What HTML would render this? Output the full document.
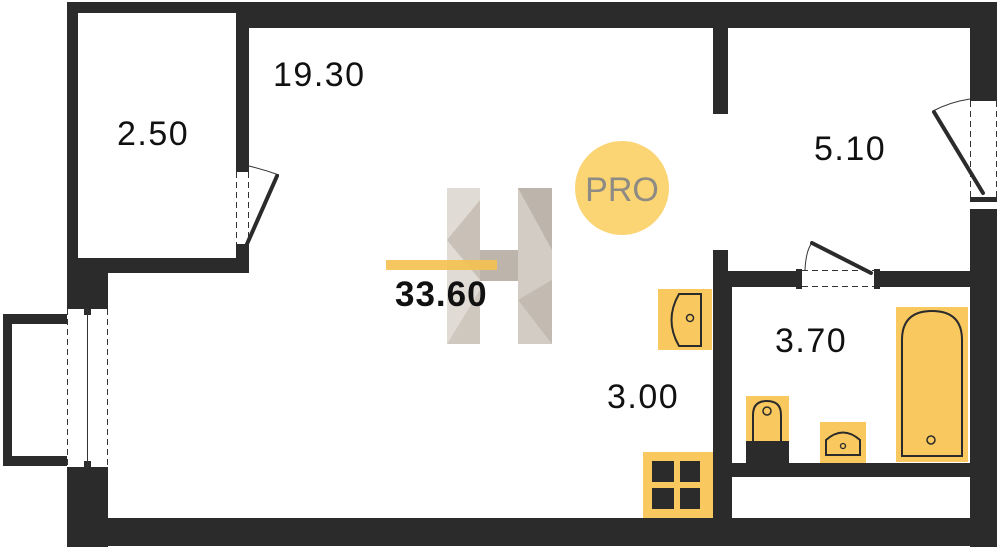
<!DOCTYPE html>
<html><head><meta charset="utf-8"><style>
html,body{margin:0;padding:0;background:#fff;width:1000px;height:547px;overflow:hidden}
svg{display:block}
text{font-family:"Liberation Sans",sans-serif;}
</style></head><body>
<svg width="1000" height="547" viewBox="0 0 1000 547" xmlns="http://www.w3.org/2000/svg">
<rect width="1000" height="547" fill="#fff"/>
<g fill="#2b2b2b">
<rect x="67" y="2" width="930" height="11"/>
<rect x="249" y="2" width="748" height="26"/>
<rect x="67" y="2" width="11" height="271"/>
<rect x="236" y="2" width="13" height="167"/>
<rect x="236" y="248" width="13" height="25"/>
<rect x="67" y="258" width="182" height="15"/>
<rect x="67" y="258" width="41" height="49"/>
<rect x="67" y="470" width="41" height="77"/>
<rect x="67" y="518" width="930" height="28"/>
<rect x="970" y="2" width="27" height="96"/>
<rect x="970" y="209" width="27" height="338"/>
<rect x="713" y="28" width="15" height="86"/>
<rect x="713" y="250" width="15" height="40"/>
<rect x="713" y="271" width="19" height="250"/>
<rect x="728" y="271" width="70" height="16"/>
<rect x="878" y="271" width="92" height="16"/>
<rect x="731" y="463" width="241" height="14"/>
<rect x="3" y="314" width="64" height="10"/>
<rect x="3" y="456" width="64" height="10"/>
<rect x="3" y="314" width="9" height="152"/>
<rect x="67" y="305" width="41" height="4"/>
<rect x="67" y="467" width="41" height="4"/>
<rect x="84" y="309" width="7" height="6"/>
<rect x="84" y="461" width="7" height="6"/>
<rect x="236" y="166" width="13" height="6"/>
<rect x="236" y="244" width="13" height="6"/>
<rect x="970" y="96" width="27" height="5"/>
<rect x="970" y="197" width="27" height="5"/>
<rect x="796" y="269" width="6" height="20"/>
<rect x="874" y="269" width="6" height="20"/>
</g>
<g stroke="#333" stroke-width="1" fill="none">
<line x1="67.5" y1="309" x2="67.5" y2="467" stroke-dasharray="6,4"/>
<line x1="107.5" y1="309" x2="107.5" y2="467" stroke-dasharray="6,4"/>
<line x1="87.5" y1="309" x2="87.5" y2="467"/>
<line x1="236.5" y1="172" x2="236.5" y2="244" stroke-dasharray="6,4"/>
<line x1="248.5" y1="172" x2="248.5" y2="244" stroke-dasharray="6,4"/>
<path d="M249 166 Q265 170 279 175"/>
<line x1="970.5" y1="101" x2="970.5" y2="197" stroke-dasharray="6,4"/>
<line x1="996.5" y1="101" x2="996.5" y2="197" stroke-dasharray="6,4"/>
<path d="M933 111 Q950 102 970 99"/>
<line x1="802" y1="270.5" x2="874" y2="270.5" stroke-dasharray="6,4"/>
<line x1="802" y1="286.5" x2="874" y2="286.5" stroke-dasharray="6,4"/>
<path d="M805 270 Q806 250 812 243"/>
</g>
<g stroke="#2b2b2b" stroke-width="4" stroke-linecap="round">
<line x1="247" y1="244" x2="277" y2="176"/>
<line x1="983" y1="193" x2="934" y2="112"/>
<line x1="871" y1="273" x2="812" y2="243"/>
</g>
<rect x="447" y="188" width="33" height="156" fill="#e0dbd5"/>
<rect x="518" y="188" width="34" height="156" fill="#d3ccc4"/>
<rect x="480" y="250" width="38" height="31" fill="#bdb5ab"/>
<polygon points="447,240 480,200 480,280" fill="#c9c1b8"/>
<polygon points="518,188 552,188 552,250" fill="#bdb5ab"/>
<polygon points="447,344 480,290 480,344" fill="#cfc8bf"/>
<polygon points="518,300 552,280 552,344" fill="#c3bbb1"/>
<rect x="386" y="260" width="111" height="10" fill="#f5c14f" opacity="0.9"/>
<circle cx="622" cy="188" r="47" fill="#fbd574"/>
<text x="622" y="201" text-anchor="middle" font-size="34" fill="#8e8a84">PRO</text>
<g stroke="#2b2b2b" stroke-width="2">
<rect x="658" y="289" width="54" height="61" fill="#f9c85e" stroke="none"/>
<path d="M701 294 L679 294 Q664 320 679 346 L701 346 Z" fill="#f9c85e"/>
<circle cx="690" cy="318" r="3.5" fill="none" stroke-width="1.5"/>
<rect x="643" y="452" width="70" height="66" fill="#f9c85e" stroke="none"/>
<rect x="896" y="307" width="72" height="155" fill="#f9c85e" stroke="none"/>
<path d="M902 456 L902 340 Q902 311 932 311 Q962 311 962 340 L962 456 Z" fill="#f9c85e"/>
<circle cx="931" cy="440" r="4" fill="none" stroke-width="1.5"/>
<rect x="746" y="396" width="43" height="67" fill="#f9c85e" stroke="none"/>
<rect x="746" y="441" width="43" height="22" fill="#2b2b2b" stroke="none"/>
<path d="M753 441 L753 415 Q753 401 767 401 Q781 401 781 415 L781 441" fill="#f9c85e"/>
<circle cx="767" cy="411" r="4" fill="none" stroke-width="1.5"/>
<rect x="820" y="422" width="46" height="41" fill="#f9c85e" stroke="none"/>
<path d="M826 455 L826 440 Q843 425 860 440 L860 455 Z" fill="#f9c85e"/>
<circle cx="843" cy="446" r="2.5" fill="none" stroke-width="1.3"/>
</g>
<g fill="#2b2b2b">
<rect x="652" y="461" width="22" height="21"/><rect x="680" y="461" width="20" height="21"/>
<rect x="652" y="488" width="22" height="21"/><rect x="680" y="488" width="20" height="21"/>
</g>
<g font-size="34" fill="#111" letter-spacing="1.5">
<text x="273" y="86">19.30</text>
<text x="117" y="145">2.50</text>
<text x="814" y="160">5.10</text>
<text x="775" y="352">3.70</text>
<text x="607" y="408">3.00</text>
<text x="395" y="306" font-weight="bold" font-size="35" letter-spacing="1">33.60</text>
</g>
</svg>
</body></html>
